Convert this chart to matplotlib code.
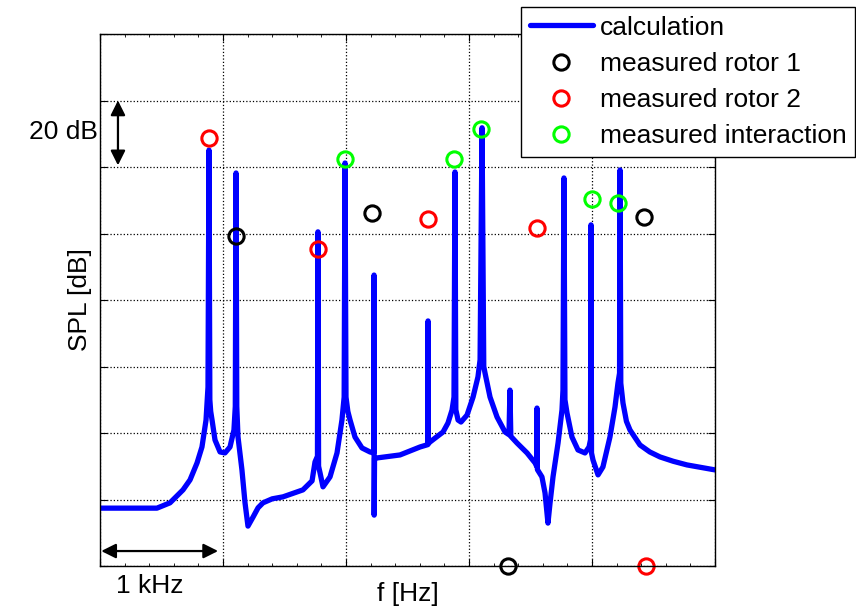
import matplotlib
matplotlib.use('Agg')
import matplotlib.pyplot as plt

plt.rcParams['font.family'] = ['Liberation Sans', 'DejaVu Sans']
plt.rcParams['font.size'] = 19

# calculated spectrum, f in Hz, SPL in dB
freq = [0, 463, 569, 675, 732, 789, 829, 862, 878, 886, 893, 900, 911, 935,
        976, 1016, 1057, 1089, 1100, 1106, 1112, 1122, 1154, 1179, 1203,
        1244, 1285, 1325, 1400, 1488, 1650, 1724, 1748, 1768, 1772, 1777,
        1789, 1813, 1870, 1927, 1967, 1985, 1992, 2000, 2015, 2033, 2073,
        2130, 2195, 2225, 2228, 2229, 2232, 2252, 2439, 2602, 2665, 2667,
        2669, 2683, 2789, 2829, 2862, 2878, 2886, 2893, 2911, 2935, 2984,
        3033, 3073, 3090, 3106, 3120, 3130, 3171, 3228, 3293, 3325, 3333,
        3340, 3390, 3472, 3537, 3550, 3553, 3556, 3593, 3618, 3642, 3659,
        3683, 3724, 3756, 3764, 3772, 3780, 3797, 3837, 3886, 3943, 3976,
        3988, 3992, 3996, 4008, 4049, 4089, 4146, 4187, 4211, 4224, 4228,
        4234, 4252, 4280, 4309, 4390, 4470, 4553, 4660, 4772, 5000]
spl = [17.4, 17.4, 19.0, 22.9, 25.9, 31.0, 35.8, 43.9, 53.8, 125.1, 50.0,
       46.5, 43.9, 37.9, 34.3, 34.0, 35.8, 40.9, 48.0, 118.2, 48.0, 38.8,
       28.9, 19.0, 12.0, 14.7, 17.5, 19.0, 20.2, 20.8, 22.9, 25.6, 31.3,
       33.0, 100.5, 30.0, 28.0, 23.8, 26.8, 34.0, 43.9, 50.8, 121.2, 50.8,
       46.5, 43.9, 38.8, 35.5, 34.3, 34.0, 87.5, 15.3, 32.5, 32.5, 33.4,
       35.8, 36.5, 73.7, 36.8, 37.3, 40.3, 43.0, 46.9, 50.8, 118.5, 47.0,
       43.9, 43.3, 45.4, 50.8, 56.9, 62.0, 131.8, 60.0, 58.1, 50.8, 44.8,
       40.3, 39.5, 52.9, 39.0, 37.0, 34.0, 31.0, 30.0, 47.5, 29.0, 26.8,
       22.0, 12.9, 19.0, 26.8, 37.0, 46.9, 52.9, 116.7, 50.0, 46.0, 38.8,
       34.9, 34.0, 35.8, 38.0, 102.6, 34.0, 31.9, 27.4, 29.8, 38.8, 47.8,
       55.0, 58.0, 119.1, 55.0, 49.0, 43.5, 40.9, 36.4, 34.3, 32.8, 31.5,
       30.4, 28.9]

# measured tones
rotor1_f = [1106, 2211, 3317, 4423]
rotor1_spl = [99.3, 106.2, 0.0, 105.0]
rotor2_f = [886, 1772, 2667, 3553, 4439]
rotor2_spl = [128.7, 95.3, 104.4, 101.7, 0.0]
inter_f = [1992, 2878, 3098, 4000, 4211]
inter_spl = [122.4, 122.4, 131.4, 110.4, 109.2]

fig = plt.figure(figsize=(8.56, 6.10), dpi=100)
ax = fig.add_axes([100/856, 44/610, 615/856, 532/610])

ax.plot(freq, spl, color='b', lw=3.8, solid_joinstyle='round',
        solid_capstyle='round', label='calculation')
mk = dict(ls='none', marker='o', ms=11, mfc='none', mew=2.2, clip_on=False)
ax.plot(rotor1_f, rotor1_spl, mec='k', label='measured rotor 1', **mk)
ax.plot(rotor2_f, rotor2_spl, mec='r', label='measured rotor 2', **mk)
ax.plot(inter_f, inter_spl, mec=(0, 1, 0), label='measured interaction', **mk)

ax.set_xlim(0, 5000)
ax.set_ylim(0, 160)
ax.set_xticks([0, 1000, 2000, 3000, 4000, 5000])
ax.set_yticks(range(0, 161, 20))
ax.set_xticks(range(0, 5001, 200), minor=True)
ax.set_xticklabels([])
ax.set_yticklabels([])
ax.tick_params(which='both', direction='in', top=True, right=True)
ax.tick_params(which='major', length=5)
ax.tick_params(which='minor', length=2.5)
ax.grid(True, ls=':', color='k', lw=0.9)
for s in ax.spines.values():
    s.set_linewidth(1.0)

ax.set_xlabel('f [Hz]', labelpad=8)
ax.set_ylabel('SPL [dB]', labelpad=2)

# scale arrows
arr = dict(arrowstyle='<|-|>', color='k', lw=1.6, mutation_scale=22,
           shrinkA=0, shrinkB=0)
ax.annotate('', xy=(146, 140), xytext=(146, 120.5), arrowprops=arr,
            annotation_clip=False)
ax.annotate('', xy=(10, 4.5), xytext=(960, 4.5), arrowprops=arr,
            annotation_clip=False)
ax.text(-300, 130.5, '20 dB', ha='center', va='center', clip_on=False)
ax.text(405, -6.0, '1 kHz', ha='center', va='center', clip_on=False)

leg = ax.legend(loc='upper right', bbox_to_anchor=(855/856, 1 - 7/610),
                bbox_transform=fig.transFigure, borderaxespad=0,
                fancybox=False, framealpha=1, edgecolor='k',
                handlelength=2.4, handletextpad=0.25, labelspacing=0.46,
                borderpad=0.33)
leg.get_frame().set_linewidth(1.0)

fig.savefig('out.png', dpi=100)
